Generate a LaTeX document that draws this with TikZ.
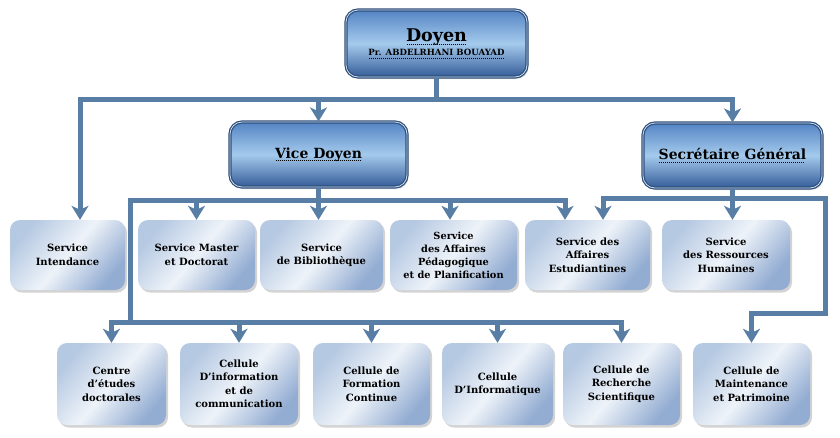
\documentclass[tikz,border=0pt]{standalone}
\usepackage{fontspec}
\setmainfont{DejaVu Serif}
\usetikzlibrary{arrows.meta,shadows}
\definecolor{conn}{RGB}{88,126,166}
\definecolor{headtop}{RGB}{84,132,196}
\definecolor{headmid}{RGB}{164,202,236}
\definecolor{headbot}{RGB}{52,92,152}
\definecolor{headline}{RGB}{48,78,122}
\definecolor{unitlight}{RGB}{238,243,249}
\definecolor{unitleft}{RGB}{182,201,226}
\definecolor{unitright}{RGB}{146,172,210}
\newcommand\mydotul[1]{\setbox0=\hbox{#1}\leavevmode\rlap{\raisebox{-2.5pt}{\hbox to \wd0{\leaders\hbox to 2pt{\hss\rule{1pt}{0.6pt}\hss}\hfill}}}\box0}
\begin{document}
\begin{tikzpicture}[x=1pt,y=-1pt,
  wire/.style={draw=conn,line width=5pt},
  arr/.style={wire,-{Stealth[length=14pt,width=17pt,inset=4pt]}},
  unit/.style={rounded corners=10pt,left color=unitleft,right color=unitright,middle color=unitlight,
    shading angle=50,
    drop shadow={shadow xshift=2pt,shadow yshift=-2.5pt,opacity=0.35,fill=gray},
    align=center,inner sep=2pt,font=\bfseries\fontsize{10}{13.5}\selectfont,text=black},
  head/.style={rounded corners=12pt,top color=headtop,bottom color=headbot,middle color=headmid,
    draw=headline,line width=1.2pt,double=headmid!60!white,double distance=0.8pt,
    drop shadow={shadow xshift=1.5pt,shadow yshift=-2pt,opacity=0.3,fill=gray},
    align=center,inner sep=2pt,text=black}
]
\useasboundingbox (0,0) rectangle (840,437);

% top-level boxes
\node[head,minimum width=181pt,minimum height=67pt] (doyen) at (436.5,43.5)
  {{\fontsize{17.5}{20}\selectfont\bfseries\mydotul{Doyen}}\\[2pt]{\fontsize{8.6}{10}\selectfont\bfseries\mydotul{Pr. ABDELRHANI BOUAYAD}}};
\node[head,minimum width=177pt,minimum height=65pt,font=\bfseries\fontsize{14}{16}\selectfont] (vd) at (318.5,154.5) {\mydotul{Vice Doyen}};
\node[head,minimum width=179pt,minimum height=65pt,font=\bfseries\fontsize{14}{16}\selectfont] (sg) at (732.5,155.5) {\mydotul{Secrétaire Général}};

% second row
\node[unit,minimum width=115pt,minimum height=70pt] (intend) at (67.5,255) {Service\\Intendance};
\node[unit,minimum width=117pt,minimum height=70pt] (master) at (196.5,255) {Service Master\\et Doctorat};
\node[unit,minimum width=123pt,minimum height=70pt] (biblio) at (321.5,255) {Service\\de Bibliothèque};
\node[unit,minimum width=127pt,minimum height=70pt,font=\bfseries\fontsize{9.8}{13}\selectfont] (peda) at (453.5,255) {Service\\des Affaires\\Pédagogique\\et de Planification};
\node[unit,minimum width=125pt,minimum height=70pt] (etud) at (587.5,255) {Service des\\Affaires\\Estudiantines};
\node[unit,minimum width=128pt,minimum height=70pt] (rh) at (726,255) {Service\\des Ressources\\Humaines};

% bottom row
\node[unit,minimum width=109pt,minimum height=82pt] (centre) at (111.5,384) {Centre\\d’études\\doctorales};
\node[unit,minimum width=118pt,minimum height=82pt] (info) at (239,384) {Cellule\\D’information\\et de\\communication};
\node[unit,minimum width=117pt,minimum height=82pt] (form) at (371.5,384) {Cellule de\\Formation\\Continue};
\node[unit,minimum width=111pt,minimum height=82pt] (infor) at (497.5,384) {Cellule\\D’Informatique};
\node[unit,minimum width=117pt,minimum height=82pt] (rech) at (621.5,384) {Cellule de\\Recherche\\Scientifique};
\node[unit,minimum width=117pt,minimum height=82pt] (maint) at (751.5,384) {Cellule de\\Maintenance\\et Patrimoine};

% bus coordinates
\coordinate (T) at (0,99);
\coordinate (B2) at (0,200);
\coordinate (L) at (130,200);
\coordinate (L2) at (130,322);
\coordinate (S2) at (0,198);
\coordinate (R) at (825,198);
\coordinate (R2) at (825,313);

% from Doyen
\draw[arr] (doyen.south) -- (doyen.south |- T) -| ([xshift=12.5pt]intend.north);
\draw[arr] (doyen.south |- T) -| (vd.north);
\draw[arr] (doyen.south |- T) -| (sg.north);

% from Vice Doyen
\draw[wire] (vd.south) -- (vd.south |- B2) -- (L) -- (L2);
\draw[arr] (vd.south) -- (vd.south |- biblio.north);
\draw[arr] (vd.south |- B2) -| (master.north);
\draw[arr] (vd.south |- B2) -| ([xshift=-3.5pt]peda.north);
\draw[arr] (vd.south |- B2) -| ([xshift=-22.5pt]etud.north);
\draw[arr] (L2) -| (centre.north);
\draw[arr] (L2) -| (info.north);
\draw[arr] (L2) -| (form.north);
\draw[arr] (L2) -| (infor.north);
\draw[arr] (L2) -| (rech.north);

% from Secretaire General
\draw[arr] (sg.south) -- (sg.south |- S2) -| ([xshift=15.5pt]etud.north);
\draw[arr] (sg.south) -- (sg.south |- rh.north);
\draw[arr] (sg.south |- S2) -- (R) -- (R2) -| (maint.north);
\end{tikzpicture}
\end{document}
